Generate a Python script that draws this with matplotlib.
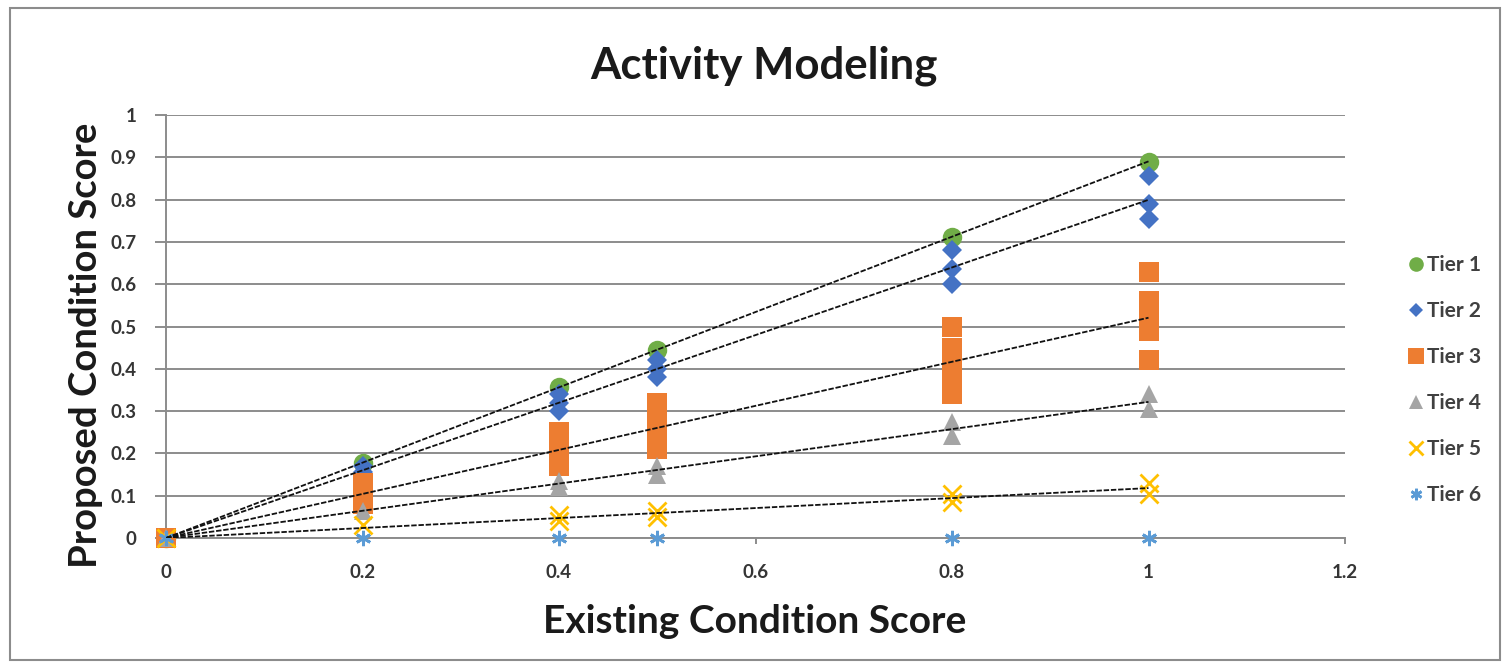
import matplotlib
matplotlib.use("Agg")
import matplotlib.pyplot as plt
import numpy as np
from matplotlib.patches import Rectangle

plt.rcParams['font.family'] = ['Lato', 'DejaVu Sans']

# ---- data ----
tier1_x = [0, 0.2, 0.4, 0.5, 0.8, 1.0]
tier1_y = [0, 0.178, 0.358, 0.445, 0.712, 0.89]

tier2_x = [0, 0.2, 0.2, 0.4, 0.4, 0.4, 0.5, 0.5, 0.5, 0.8, 0.8, 0.8, 1.0, 1.0, 1.0]
tier2_y = [0, 0.17, 0.155, 0.34, 0.32, 0.30, 0.42, 0.40, 0.38, 0.68, 0.635, 0.60, 0.855, 0.79, 0.755]

tier3_x = [0, 0.2, 0.2, 0.2, 0.2, 0.4, 0.4, 0.4, 0.4, 0.4, 0.5, 0.5, 0.5, 0.5, 0.5,
           0.8, 0.8, 0.8, 0.8, 0.8, 0.8, 1.0, 1.0, 1.0, 1.0, 1.0]
tier3_y = [0, 0.08, 0.10, 0.12, 0.13, 0.17, 0.19, 0.21, 0.23, 0.25, 0.21, 0.24, 0.26, 0.29, 0.32,
           0.50, 0.45, 0.42, 0.39, 0.36, 0.34, 0.63, 0.56, 0.52, 0.49, 0.42]

tier4_x = [0, 0.2, 0.4, 0.4, 0.5, 0.5, 0.8, 0.8, 1.0, 1.0]
tier4_y = [0, 0.065, 0.135, 0.12, 0.17, 0.15, 0.275, 0.24, 0.34, 0.305]

tier5_x = [0, 0.2, 0.4, 0.4, 0.5, 0.5, 0.8, 0.8, 1.0, 1.0]
tier5_y = [0, 0.03, 0.055, 0.04, 0.065, 0.05, 0.105, 0.085, 0.13, 0.105]

tier6_x = [0, 0.2, 0.4, 0.5, 0.8, 1.0]
tier6_y = [0, 0, 0, 0, 0, 0]

labels = ['Tier 1', 'Tier 2', 'Tier 3', 'Tier 4', 'Tier 5', 'Tier 6']
x_ticks = [0, 0.2, 0.4, 0.6, 0.8, 1, 1.2]
x_ticklabels = ['0', '0.2', '0.4', '0.6', '0.8', '1', '1.2']
y_ticks = [0, 0.1, 0.2, 0.3, 0.4, 0.5, 0.6, 0.7, 0.8, 0.9, 1]
y_ticklabels = ['0', '0.1', '0.2', '0.3', '0.4', '0.5', '0.6', '0.7', '0.8', '0.9', '1']

series = [(tier1_x, tier1_y), (tier2_x, tier2_y), (tier3_x, tier3_y),
          (tier4_x, tier4_y), (tier5_x, tier5_y), (tier6_x, tier6_y)]

colors = ['#70AD47', '#4472C4', '#ED7D31', '#A5A5A5', '#FFC000', '#5B9BD5']
markers = ['o', 'D', 's', '^', 'x', (6, 2, 0)]
sizes = [14, 10, 15, 13, 13, 11]

W, H = 1509, 668
fig = plt.figure(figsize=(W / 100, H / 100), dpi=100)
ax = fig.add_axes([166 / W, 1 - 538 / H, (1345 - 166) / W, (538 - 115) / H])

handles = []
for (xs, ys), c, m, s, lab in zip(series, colors, markers, sizes, labels):
    if m == 'x' or isinstance(m, tuple):
        h, = ax.plot(xs, ys, linestyle='none', marker=m, markersize=s, color=c,
                     markeredgewidth=2.0, label=lab, zorder=3, clip_on=False)
    else:
        h, = ax.plot(xs, ys, linestyle='none', marker=m, markersize=s, color=c,
                     markeredgewidth=0, label=lab, zorder=3, clip_on=False)
    handles.append(h)

# trendlines (linear through origin)
for (xs, ys) in series[:5]:
    xa = np.array(xs); ya = np.array(ys)
    slope = np.sum(xa * ya) / np.sum(xa * xa)
    xl = np.array([0, 1.0])
    ax.plot(xl, slope * xl, color='#111111', lw=1.3, linestyle=(0, (3, 1)), zorder=4)

ax.set_xlim(0, 1.2)
ax.set_ylim(0, 1)
ax.set_xticks(x_ticks)
ax.set_xticklabels(x_ticklabels)
ax.set_yticks(y_ticks)
ax.set_yticklabels(y_ticklabels)

ax.yaxis.grid(True, color='#8c8c8c', lw=1.4, zorder=0)
ax.set_axisbelow(True)
for sp in ['top', 'right']:
    ax.spines[sp].set_visible(False)
for sp in ['left', 'bottom']:
    ax.spines[sp].set_color('#8c8c8c')
    ax.spines[sp].set_linewidth(1.4)

ax.tick_params(axis='y', direction='out', length=8, width=1.4, color='#8c8c8c', pad=13,
               labelsize=13.5, labelcolor='#353535')
ax.tick_params(axis='x', direction='out', length=4, width=1.4, color='#8c8c8c', pad=15,
               labelsize=13.5, labelcolor='#353535')
for t in ax.get_xticklabels() + ax.get_yticklabels():
    t.set_fontweight('bold')

fig.text(764 / W, 1 - 78 / H, 'Activity Modeling', ha='center', va='baseline',
         fontsize=31.5, fontweight='bold', color='#1a1a1a')
fig.text(755 / W, 1 - 633 / H, 'Existing Condition Score', ha='center', va='baseline',
         fontsize=28, fontweight='bold', color='#1a1a1a')
fig.text(86 / W, 1 - 345 / H, 'Proposed Condition Score', ha='center', va='center',
         rotation=90, fontsize=27.5, fontweight='bold', color='#1a1a1a')

leg = fig.legend(handles=handles, labels=labels, loc='center left',
                 bbox_to_anchor=(1397 / W, 1 - 380 / H), frameon=False,
                 fontsize=15, labelspacing=1.25, handlelength=0.8, handletextpad=0.15,
                 markerscale=0.75, borderpad=0)
for t in leg.get_texts():
    t.set_color('#404040')
    t.set_fontweight('bold')

fig.patches.append(Rectangle((10 / W, 1 - 660 / H), (1500 - 10) / W, (660 - 8) / H,
                             transform=fig.transFigure, fill=False, edgecolor='#8c8c8c',
                             lw=1.5))

fig.savefig('out.png', dpi=100, facecolor='white')
